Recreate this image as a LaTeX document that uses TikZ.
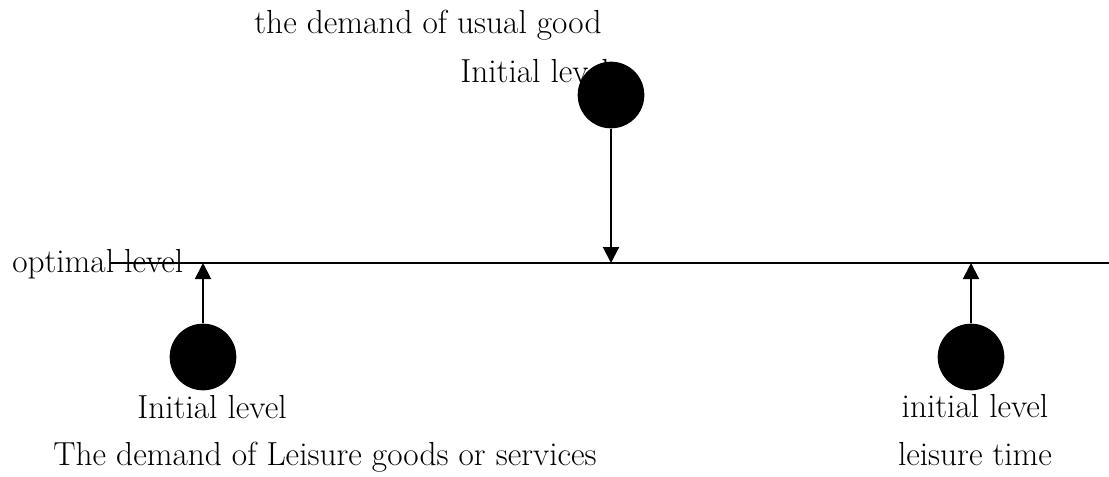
\documentclass[tikz,border=0pt]{standalone}
\usepackage{tikz}
\usetikzlibrary{calc}
\usetikzlibrary{arrows.meta}
\tikzstyle{niveau}  =[circle, fill=black, inner sep=0pt, minimum size=50]
\tikzstyle{texte}   =[font=\fontsize{25}{30}\selectfont, inner sep=0pt, anchor=base]
\tikzstyle{fleche}  =[line width=1.5pt, -{Triangle[length=12pt,width=12pt]}]

\begin{document}
\begin{tikzpicture}[x=0.75pt,y=-0.75pt]

\useasboundingbox (0,0) rectangle (1109,476);

%%%%%%%%%%%%%%%%%%%%%%%%
%Textes
%%%%%%%%%%%%%%%%%%%%%%%%
\node[texte] (titreHaut) at (428,33) {the demand of usual good};
\node[texte] (initHaut) at (535,82) {Initial level};
\node[texte,anchor=base west] (optimal) at (12,272) {optimal level};
\node[texte] (initGauche) at (212,418) {Initial level};
\node[texte] (titreGauche) at (325,465) {The demand of Leisure goods or services};
\node[texte] (initDroite) at (975,417) {initial level};
\node[texte] (titreDroite) at (975,465) {leisure time};

%%%%%%%%%%%%%%%%%%%%%%%%
%Niveau optimal
%%%%%%%%%%%%%%%%%%%%%%%%
\coordinate (debut) at (110,263);
\coordinate (fin) at (1109,263);
\draw[line width=1.5pt] (debut)--(fin);

%%%%%%%%%%%%%%%%%%%%%%%%
%Niveaux initiaux
%%%%%%%%%%%%%%%%%%%%%%%%
\node[niveau] (haut) at (611,95) {};
\node[niveau] (gauche) at (203,357) {};
\node[niveau] (droite) at (971,357) {};

\coordinate (cibleHaut) at (haut |- debut);
\coordinate (cibleGauche) at (gauche |- debut);
\coordinate (cibleDroite) at (droite |- debut);

\draw[fleche] (haut)--(cibleHaut);
\draw[fleche] (gauche)--(cibleGauche);
\draw[fleche] (droite)--(cibleDroite);

\end{tikzpicture}
\end{document}
